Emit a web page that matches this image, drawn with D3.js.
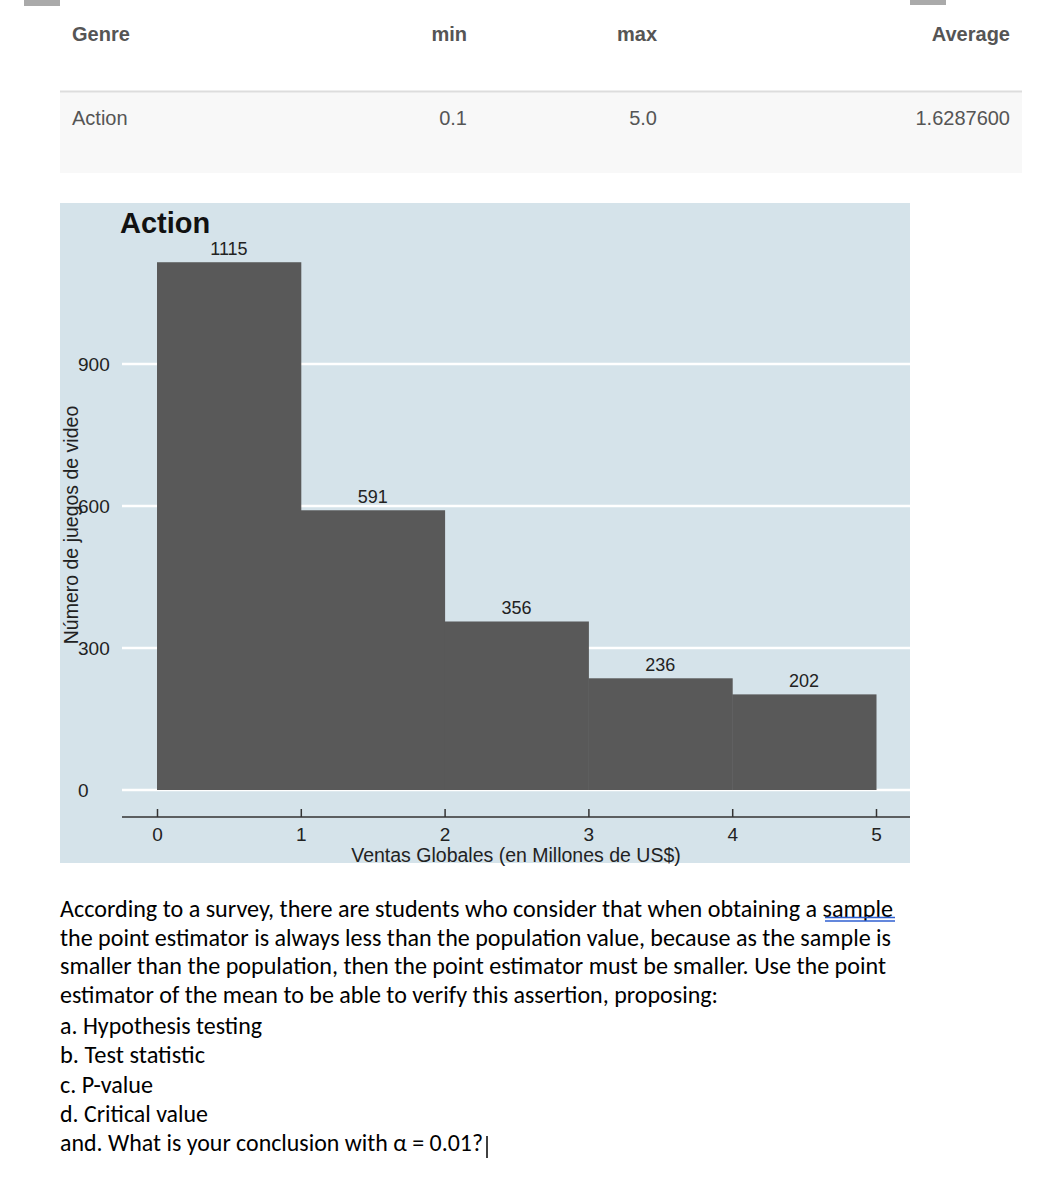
<!DOCTYPE html>
<html>
<head>
<meta charset="utf-8">
<script src="https://cdn.jsdelivr.net/npm/d3@7"></script>
<style>
  html, body { margin: 0; padding: 0; background: #ffffff; }
  svg { display: block; }
</style>
</head>
<body>
<svg id="chart" width="1040" height="1180"></svg>
<script>
// ---- data ----
const tableColumns = ["Genre", "min", "max", "Average"];
const tableRow = ["Action", "0.1", "5.0", "1.6287600"];

const chartTitle = "Action";
const binStarts = [0, 1, 2, 3, 4];
const binEnds = [1, 2, 3, 4, 5];
const counts = [1115, 591, 356, 236, 202];
const yTicks = [0, 300, 600, 900];
const xTicks = [0, 1, 2, 3, 4, 5];
const xLabel = "Ventas Globales (en Millones de US$)";
const yLabel = "Número de juegos de video";

const paragraphLines = [
  "According to a survey, there are students who consider that when obtaining a sample",
  "the point estimator is always less than the population value, because as the sample is",
  "smaller than the population, then the point estimator must be smaller. Use the point",
  "estimator of the mean to be able to verify this assertion, proposing:",
  "a. Hypothesis testing",
  "b. Test statistic",
  "c. P-value",
  "d. Critical value",
  "and. What is your conclusion with \u03B1 = 0.01?"
];

// ---- drawing ----
const svg = d3.select("#chart");
const helv = "'Liberation Sans', Arial, Helvetica, sans-serif";

// corner marks
svg.append("rect").attr("x", 24).attr("y", 0).attr("width", 36).attr("height", 6).attr("fill", "#aaaaaa");
svg.append("rect").attr("x", 910).attr("y", 0).attr("width", 36).attr("height", 5).attr("fill", "#aaaaaa");

// table
const colRight = [null, 467, 657, 1010];
const tbl = svg.append("g");
tbl.append("rect").attr("x", 60).attr("y", 92).attr("width", 962).attr("height", 81).attr("fill", "#f8f8f8");
tbl.append("line").attr("x1", 60).attr("x2", 1022).attr("y1", 91.5).attr("y2", 91.5)
  .attr("stroke", "#dddddd").attr("stroke-width", 2);
tbl.selectAll("text.hdr").data(tableColumns).join("text")
  .attr("class", "hdr")
  .attr("x", (d, i) => i === 0 ? 72 : colRight[i])
  .attr("y", 41)
  .attr("text-anchor", (d, i) => i === 0 ? "start" : "end")
  .attr("font-family", helv).attr("font-size", 20).attr("font-weight", "bold")
  .attr("fill", "#555555")
  .text(d => d);
tbl.selectAll("text.cell").data(tableRow).join("text")
  .attr("class", "cell")
  .attr("x", (d, i) => i === 0 ? 72 : colRight[i])
  .attr("y", 125)
  .attr("text-anchor", (d, i) => i === 0 ? "start" : "end")
  .attr("font-family", helv).attr("font-size", 20)
  .attr("fill", "#555555")
  .text(d => d);

// chart panel
svg.append("rect").attr("x", 60).attr("y", 203).attr("width", 850).attr("height", 660).attr("fill", "#d5e3ea");

const x = d3.scaleLinear().domain([0, 5]).range([157, 876]);
const y = d3.scaleLinear().domain([0, 900]).range([790, 364]);

// gridlines
svg.append("g").selectAll("line").data(yTicks).join("line")
  .attr("x1", 122).attr("x2", 910)
  .attr("y1", d => y(d)).attr("y2", d => y(d))
  .attr("stroke", "#ffffff").attr("stroke-width", 2.5);

// y tick labels (left aligned, Stata style)
svg.append("g").selectAll("text").data(yTicks).join("text")
  .attr("x", 78).attr("y", d => y(d)).attr("dy", "0.36em")
  .attr("font-family", helv).attr("font-size", 19).attr("fill", "#222")
  .text(d => d);

// bars
const bins = counts.map((c, i) => ({ x0: binStarts[i], x1: binEnds[i], n: c }));
svg.append("g").selectAll("rect").data(bins).join("rect")
  .attr("x", d => x(d.x0))
  .attr("width", d => x(d.x1) - x(d.x0) + 0.5)
  .attr("y", d => y(d.n))
  .attr("height", d => y(0) - y(d.n))
  .attr("fill", "#595959");

// bar labels
svg.append("g").selectAll("text").data(bins).join("text")
  .attr("x", d => (x(d.x0) + x(d.x1)) / 2)
  .attr("y", d => y(d.n) - 7)
  .attr("text-anchor", "middle")
  .attr("font-family", helv).attr("font-size", 18).attr("fill", "#222")
  .text(d => d.n);

// x axis
svg.append("line").attr("x1", 122).attr("x2", 910).attr("y1", 817).attr("y2", 817)
  .attr("stroke", "#333").attr("stroke-width", 1.5);
const xAxis = d3.axisBottom(x).tickValues(xTicks).tickFormat(d3.format("d"))
  .tickSizeInner(-8).tickSizeOuter(0).tickPadding(11);
const gx = svg.append("g").attr("transform", "translate(0,817)").call(xAxis);
gx.select(".domain").remove();
gx.selectAll(".tick line").attr("stroke", "#333").attr("stroke-width", 1.5);
gx.selectAll(".tick text").attr("font-family", helv).attr("font-size", 19).attr("fill", "#222");

svg.append("text").attr("x", 516).attr("y", 862).attr("text-anchor", "middle")
  .attr("font-family", helv).attr("font-size", 19.5).attr("fill", "#222")
  .text(xLabel);

svg.append("text")
  .attr("transform", "translate(78,525) rotate(-90)")
  .attr("text-anchor", "middle")
  .attr("font-family", helv).attr("font-size", 19.5).attr("fill", "#222")
  .text(yLabel);

// title
svg.append("text").attr("x", 120).attr("y", 233)
  .attr("font-family", helv).attr("font-size", 29).attr("font-weight", "bold").attr("fill", "#111")
  .text(chartTitle);

// paragraph
const baselines = [917, 945.5, 974, 1003, 1034, 1063, 1093, 1122, 1151];
const targetEnds = [893, 891, 886, 718, 262, 205, 153, 208, 483];
const para = svg.append("g");
const pFont = "Carlito, Calibri, Lato, 'Open Sans', sans-serif";
const pts = para.selectAll("text").data(paragraphLines).join("text")
  .attr("x", 60)
  .attr("y", (d, i) => baselines[i])
  .attr("font-family", pFont).attr("font-size", 21).attr("fill", "#000")
  .text(d => d);
// fit font size to observed line widths
let ratios = [];
pts.each(function (d, i) {
  const w = this.getComputedTextLength();
  ratios.push((targetEnds[i] - 60) / w);
});
const fs = 21 * d3.mean(ratios.slice(0, 4));
pts.attr("font-size", fs);
pts.each(function (d, i) {
  const w = this.getComputedTextLength();
  const t = targetEnds[i] - 60;
  if (Math.abs(w - t) / t < 0.06) {
    d3.select(this).attr("textLength", t).attr("lengthAdjust", "spacingAndGlyphs");
  }
});

// grammar underline under "sample"
para.append("line").attr("x1", 825).attr("x2", 895).attr("y1", 917.5).attr("y2", 917.5)
  .attr("stroke", "#2f5fd0").attr("stroke-width", 1.6);
para.append("line").attr("x1", 825).attr("x2", 895).attr("y1", 921).attr("y2", 921)
  .attr("stroke", "#2f5fd0").attr("stroke-width", 1.4);
// text cursor
para.append("line").attr("x1", 487).attr("x2", 487).attr("y1", 1136).attr("y2", 1158)
  .attr("stroke", "#000").attr("stroke-width", 1.5);
</script>
</body>
</html>
